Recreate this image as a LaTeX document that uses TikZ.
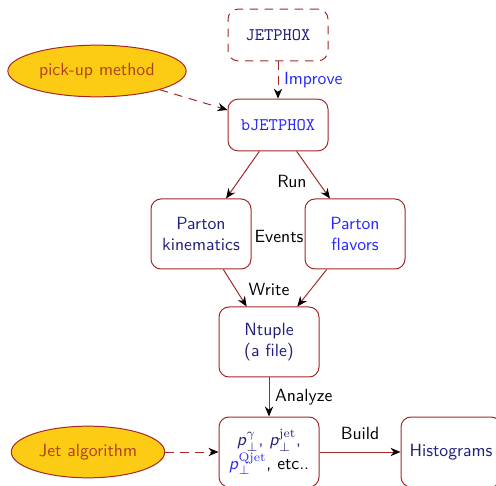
\documentclass[tikz,border=0pt]{standalone}
\usepackage{fix-cm}
\usetikzlibrary{shapes.geometric,arrows.meta}
\definecolor{navy}{RGB}{32,32,122}
\definecolor{brightblue}{RGB}{40,40,250}
\definecolor{boxred}{RGB}{165,40,40}
\definecolor{gold}{RGB}{252,204,20}
\definecolor{rust}{RGB}{175,65,30}
\newcommand{\diafont}{\sffamily\fontsize{10.6}{12.6}\selectfont}
\tikzset{
  box/.style={draw=boxred, semithick, rounded corners=6pt, fill=white, align=center,
    minimum width=60pt, minimum height=31pt, text=navy, font=\diafont},
  tallbox/.style={box, minimum height=42pt},
  source/.style={ellipse, draw=boxred, semithick, fill=gold, text=rust, font=\diafont,
    minimum height=31pt, inner sep=1pt},
  flow/.style={draw=boxred, semithick, -{Stealth[black,length=6pt,width=5pt]}},
  dflow/.style={flow, dashed, dash pattern=on 5pt off 4pt},
  tag/.style={font=\diafont, text=black}
}
\newcommand{\pperp}[1]{\textsf{\textit{p}}_\perp^{#1}}
\begin{document}
\begin{tikzpicture}[x=0.6pt, y=-0.6pt]
    \useasboundingbox (0,0) rectangle (496,486);
    % Generators
    \node[box, dashed, dash pattern=on 5pt off 4pt] (jetphox) at (278,35) {\texttt{JETPHOX}};
    \node[box, text=brightblue] (bjetphox) at (278,125) {\texttt{bJETPHOX}};
    \node[source, minimum width=107pt] (pickup) at (97,71) {pick-up method};

    % Parton level
    \node[tallbox] (kin) at (201,234) {Parton\\kinematics};
    \node[tallbox, text=brightblue] (flav) at (355,234) {Parton\\flavors};
    \node[tag] (events) at (279,236) {Events};

    % Ntuple
    \node[tallbox] (ntuple) at (269,342) {Ntuple\\(a file)};

    % Analysis
    \node[tallbox] (obs) at (269,452) {$\pperp{\gamma}$, $\pperp{\mathrm{jet}}$,\\
      \textcolor{brightblue}{$\pperp{\mathrm{Qjet}}$}\textcolor{black}{, etc..}};
    \node[source, minimum width=92pt] (jetalgo) at (88,452) {Jet algorithm};
    \node[tallbox] (histo) at (451,452) {Histograms};

    % Arrows
    \draw[dflow] (jetphox) -- node[right, font=\diafont, text=brightblue] {Improve} (bjetphox);
    \draw[dflow] (pickup) -- (bjetphox);
    \draw[flow] (bjetphox) -- (kin);
    \draw[flow] (bjetphox) -- (flav);
    \node[tag] (run) at (292,181) {Run};
    \draw[flow] (kin) -- (ntuple);
    \draw[flow] (flav) -- (ntuple);
    \node[tag] (write) at (269,289) {Write};
    \draw[flow] (ntuple) -- node[right, tag] {Analyze} (obs);
    \draw[dflow] (jetalgo) -- (obs);
    \draw[flow] (obs) -- node[above=4pt, tag] {Build} (histo);
\end{tikzpicture}
\end{document}
